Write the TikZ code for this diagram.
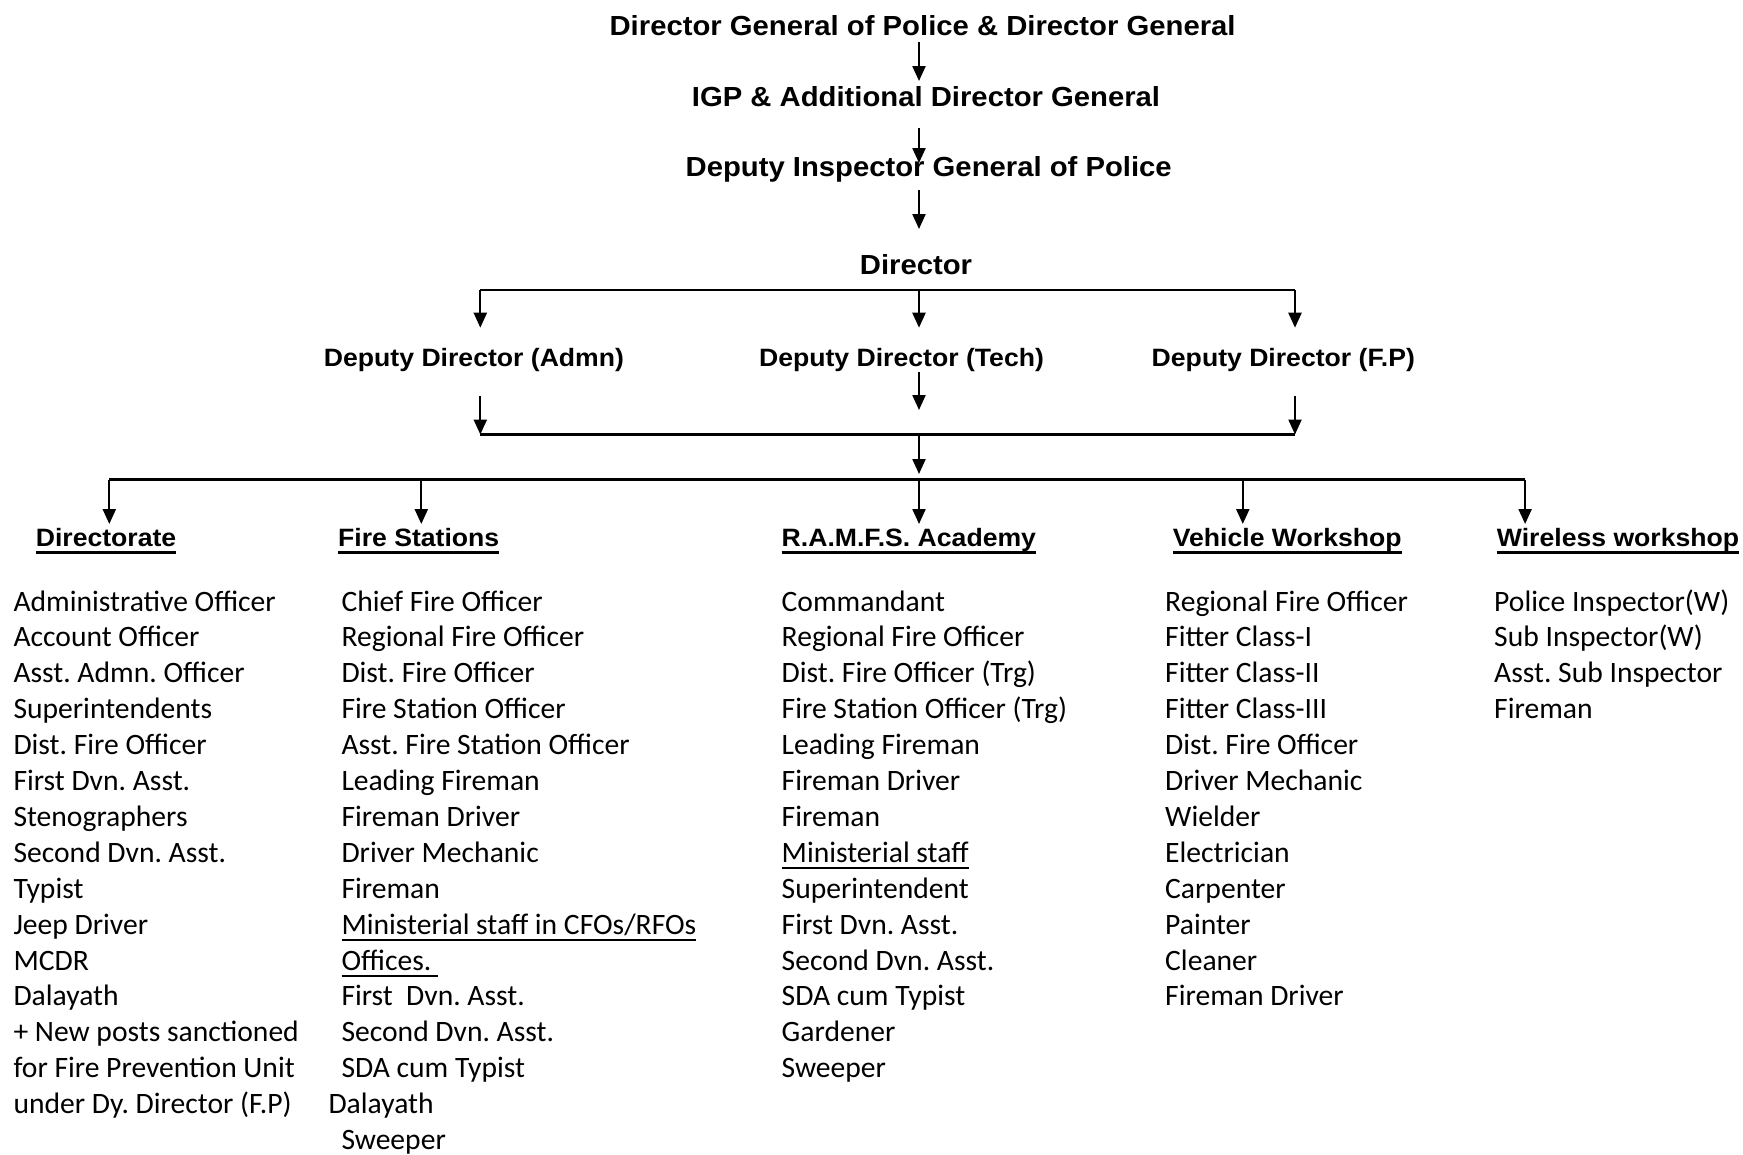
\documentclass[tikz,border=0pt]{standalone}
\usepackage{fontspec}
\setmainfont{Carlito}
\newfontfamily\hdfont[FakeStretch=1.06]{Liberation Sans}
\usetikzlibrary{arrows.meta}
\frenchspacing
\newcommand\bodyul[1]{\setbox0=\hbox{#1}\rlap{\rule[-6.6pt]{\wd0}{1.8pt}}\box0}
\newcommand\headul[1]{\setbox0=\hbox{#1}\rlap{\rule[-8pt]{\wd0}{2.6pt}}\box0}
\tikzset{
  conn/.style={line width=2.3pt},
  arr/.style={conn,-{Triangle[length=15pt,width=13pt]}},
  ttl/.style={inner sep=0pt,anchor=base,font=\hdfont\bfseries\fontsize{27.6}{32}\selectfont},
  dep/.style={inner sep=0pt,anchor=base,font=\hdfont\bfseries\fontsize{25.1}{30}\selectfont},
  hd/.style={inner sep=0pt,anchor=base west,font=\hdfont\bfseries\fontsize{25.1}{30}\selectfont},
  itm/.style={inner sep=0pt,anchor=base west,font=\fontsize{29.6}{35.9}\selectfont},
}
\begin{document}
\begin{tikzpicture}[x=1pt,y=-1pt]
\useasboundingbox[fill=white] (0,0) rectangle (1743,1154);
% titles
\node[ttl] (t1) at (922.6,35) {Director General of Police \& Director General};
\node[ttl] (t2) at (926,106) {IGP \& Additional Director General};
\node[ttl] (t3) at (928.7,176) {Deputy Inspector General of Police};
\node[ttl] (dir) at (916,274) {Director};
\node[dep] (dda) at (474,366) {Deputy Director (Admn)};
\node[dep] (ddt) at (901.5,366) {Deputy Director (Tech)};
\node[dep] (ddf) at (1283.3,366) {Deputy Director (F.P)};
% headings
\node[hd] (h1) at (35.6,546) {\headul{Directorate}};
\node[hd] (h2) at (337.9,546) {\headul{Fire Stations}};
\node[hd] (h3) at (781.5,546) {\headul{R.A.M.F.S. Academy}};
\node[hd] (h4) at (1172.7,546) {\headul{Vehicle Workshop}};
\node[hd] (h5) at (1496.7,546) {\headul{Wireless workshop}};
% coordinates
\coordinate (a1s) at (919,41.7); \coordinate (a1e) at (919,81);
\coordinate (a2s) at (919,128); \coordinate (a2e) at (919,163);
\coordinate (a3s) at (919,190); \coordinate (a3e) at (919,229);
\coordinate (ja) at (480.3,290); \coordinate (jt) at (919,290); \coordinate (jf) at (1295,290);
\coordinate (daS) at (480.3,395.7); \coordinate (dtS) at (919,372.4); \coordinate (dfS) at (1295,395.7);
\coordinate (ka) at (480.3,434.5); \coordinate (kt) at (919,434.5); \coordinate (kf) at (1295,434.5);
\coordinate (dtE) at (919,410);
\coordinate (m0) at (919,474);
\coordinate (b1) at (109.3,479.5); \coordinate (b2) at (421.3,479.5); \coordinate (b3) at (919,479.5);
\coordinate (b4) at (1242.8,479.5); \coordinate (b5) at (1525.1,479.5);
\coordinate (e1) at (109.3,524); \coordinate (e2) at (421.3,524); \coordinate (e3) at (919,524);
\coordinate (e4) at (1242.8,524); \coordinate (e5) at (1525.1,524);
% connectors
\draw[arr] (a1s) -- (a1e);
\draw[arr] (a2s) -- (a2e);
\draw[arr] (a3s) -- (a3e);
\draw[conn] (ja) -- (jf);
\draw[arr] (ja) -- ([yshift=-37.7pt]ja);
\draw[arr] (jt) -- ([yshift=-37.7pt]jt);
\draw[arr] (jf) -- ([yshift=-37.7pt]jf);
\draw[arr] (daS) -- (ka);
\draw[arr] (dfS) -- (kf);
\draw[arr] (dtS) -- (dtE);
\draw[conn] (ka) -- (kf);
\draw[arr] (kt) -- (m0);
\draw[conn] (b1) -- (b5);
\draw[arr] (b1) -- (e1);
\draw[arr] (b2) -- (e2);
\draw[arr] (b3) -- (e3);
\draw[arr] (b4) -- (e4);
\draw[arr] (b5) -- (e5);
% lists
\foreach \t [count=\i from 0] in {Administrative Officer,Account Officer,Asst. Admn. Officer,Superintendents,Dist. Fire Officer,First Dvn. Asst.,Stenographers,Second Dvn. Asst.,Typist,Jeep Driver,MCDR,Dalayath,+ New posts sanctioned,for Fire Prevention Unit,under Dy. Director (F.P)}
  \node[itm] (ca\i) at (13.3,{611+35.9*\i}) {\t};
\foreach \t [count=\i from 0] in {Chief Fire Officer,Regional Fire Officer,Dist. Fire Officer,Fire Station Officer,Asst. Fire Station Officer,Leading Fireman,Fireman Driver,Driver Mechanic,Fireman,\bodyul{Ministerial staff in CFOs/RFOs},\bodyul{Offices.\ },First\ \ Dvn. Asst.,Second Dvn. Asst.,SDA cum Typist,\hspace*{-13pt}Dalayath,Sweeper}
  \node[itm] (cb\i) at (341.3,{611+35.9*\i}) {\t};
\foreach \t [count=\i from 0] in {Commandant,Regional Fire Officer,Dist. Fire Officer (Trg),Fire Station Officer (Trg),Leading Fireman,Fireman Driver,Fireman,\bodyul{Ministerial staff},Superintendent,First Dvn. Asst.,Second Dvn. Asst.,SDA cum Typist,Gardener,Sweeper}
  \node[itm] (cc\i) at (781.5,{611+35.9*\i}) {\t};
\foreach \t [count=\i from 0] in {Regional Fire Officer,Fitter Class-I,Fitter Class-II,Fitter Class-III,Dist. Fire Officer,Driver Mechanic,Wielder,Electrician,Carpenter,Painter,Cleaner,Fireman Driver}
  \node[itm] (cd\i) at (1165,{611+35.9*\i}) {\t};
\foreach \t [count=\i from 0] in {Police Inspector(W),Sub Inspector(W),Asst. Sub Inspector,Fireman}
  \node[itm] (ce\i) at (1494,{611+35.9*\i}) {\t};
\end{tikzpicture}
\end{document}
